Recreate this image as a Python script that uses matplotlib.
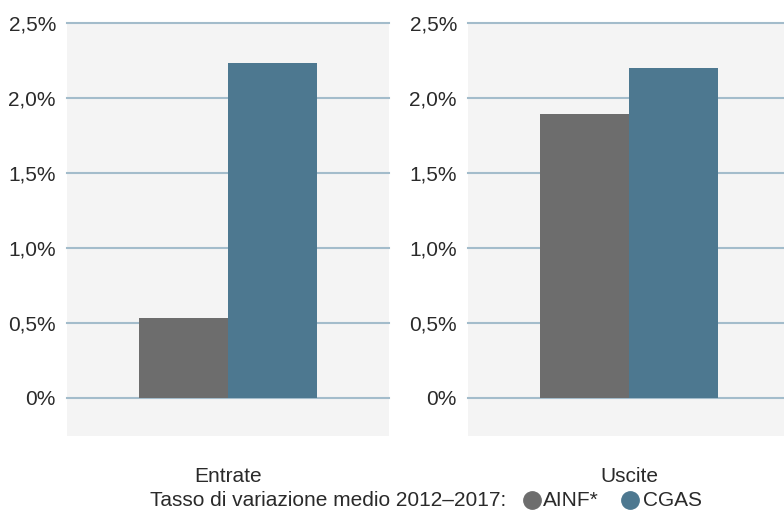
import matplotlib
matplotlib.use('Agg')
import matplotlib.pyplot as plt
from matplotlib.lines import Line2D
from matplotlib.ticker import FuncFormatter

# tassi di variazione medi 2012-2017 (%)
categorie = ['Entrate', 'Uscite']
serie = ['AINF*', 'CGAS']
ainf = [0.53, 1.89]
cgas = [2.23, 2.20]
colori = ['#6d6d6d', '#4d7890']
yticks = [0, 0.5, 1.0, 1.5, 2.0, 2.5]

plt.rcParams['font.family'] = ['Liberation Sans', 'DejaVu Sans']
testo = '#2a2a2a'

fig = plt.figure(figsize=(7.84, 5.11), dpi=100)
posizioni = [[67 / 784, 75 / 511, 322 / 784, 413.5 / 511],
             [468 / 784, 75 / 511, 322 / 784, 413.5 / 511]]


def fmt(v, pos):
    if v == 0:
        return '0%'
    return ('%.1f%%' % v).replace('.', ',')


w = 0.2764
for i, cat in enumerate(categorie):
    ax = fig.add_axes(posizioni[i])
    ax.set_facecolor('#f4f4f4')
    ax.bar(-w / 2, ainf[i], width=w, color=colori[0], zorder=3)
    ax.bar(w / 2, cgas[i], width=w, color=colori[1], zorder=3)
    ax.set_xlim(-0.5, 0.5)
    ax.set_ylim(-0.253, 2.5)
    ax.set_yticks(yticks)
    ax.yaxis.set_major_formatter(FuncFormatter(fmt))
    for t in yticks:
        ax.axhline(t, color='#a3bccb', linewidth=1.5, zorder=2, clip_on=False)
    ax.set_xticks([0])
    ax.set_xticklabels([cat])
    ax.tick_params(axis='x', length=0, pad=22, labelsize=15, labelcolor=testo)
    ax.tick_params(axis='y', length=0, pad=8, labelsize=15, labelcolor=testo)
    for s in ax.spines.values():
        s.set_visible(False)

# legenda su una riga sotto i pannelli
yl = 1 - 500 / 511
fig.text(150 / 784, yl, 'Tasso di variazione medio 2012\u20132017:',
         fontsize=15, color=testo, va='center', ha='left')
for xc, xt, c, lab in [(532, 543, colori[0], serie[0]), (630, 643, colori[1], serie[1])]:
    fig.add_artist(Line2D([xc / 784], [yl], marker='o', linestyle='', markersize=12.5,
                          markerfacecolor=c, markeredgecolor=c, transform=fig.transFigure))
    fig.text(xt / 784, yl, lab, fontsize=15, color=testo, va='center', ha='left')

fig.savefig('out.png', dpi=100)
